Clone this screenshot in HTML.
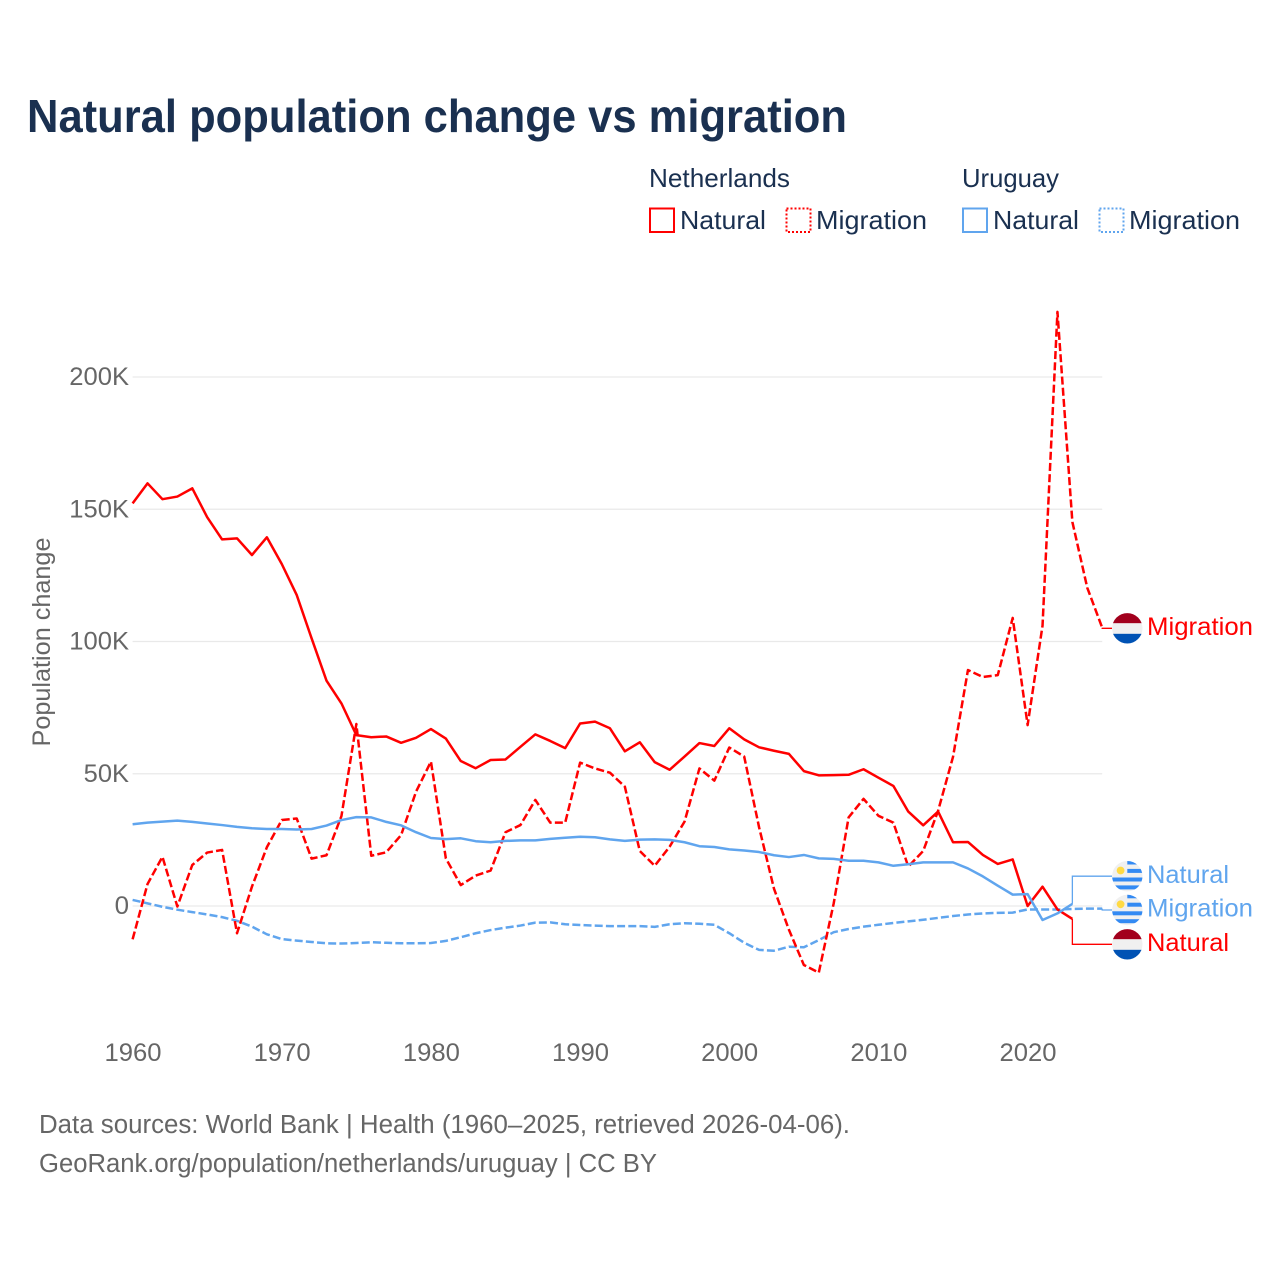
<!DOCTYPE html>
<html lang="en">
<head>
<meta charset="utf-8">
<title>Natural population change vs migration</title>
<style>
html,body{margin:0;padding:0;background:#fff;width:1280px;height:1280px;overflow:hidden}
svg{display:block}
text{font-family:"Liberation Sans",sans-serif}
.legend{fill:#1a3050;font-size:26px}
.foot{fill:#666;font-size:25.5px}
.tick{fill:#666;font-size:25px}
</style>
</head>
<body>
<svg id="chart" xmlns="http://www.w3.org/2000/svg" width="1280" height="1280" viewBox="0 0 1280 1280">
  <defs>
    <clipPath id="flag-clip"><circle cx="0" cy="0" r="15.2"/></clipPath>
    <g id="flag-nl">
      <g clip-path="url(#flag-clip)">
        <rect x="-16" y="-16" width="32" height="11" fill="#a2001d"/>
        <rect x="-16" y="-5" width="32" height="10.5" fill="#f0f0f0"/>
        <rect x="-16" y="5.500" width="32" height="11" fill="#0052b4"/>
      </g>
    </g>
    <g id="flag-uy">
      <g clip-path="url(#flag-clip)">
        <rect x="-16" y="-16" width="32" height="32" fill="#f0f0f0"/>
        <rect x="0" y="-15.500" width="16" height="3.8" fill="#338af3"/>
        <rect x="0" y="-7.300" width="16" height="4" fill="#338af3"/>
        <rect x="-16" y="1.300" width="32" height="4" fill="#338af3"/>
        <rect x="-16" y="9.200" width="32" height="4" fill="#338af3"/>
        <circle cx="-6.700" cy="-5.700" r="3.900" fill="#ffda44"/>
      </g>
    </g>
  </defs>

  <text x="27" y="132" font-size="46" font-weight="700" fill="#1a3050" textLength="820" lengthAdjust="spacingAndGlyphs">Natural population change vs migration</text>

  <g>
    <text class="legend" x="649" y="187" textLength="141" lengthAdjust="spacingAndGlyphs">Netherlands</text>
    <text class="legend" x="962" y="187" textLength="97" lengthAdjust="spacingAndGlyphs">Uruguay</text>
    <rect x="650" y="208.5" width="24" height="23.5" fill="none" stroke="#ff0000" stroke-width="2"/>
    <text class="legend" x="680" y="229" textLength="86" lengthAdjust="spacingAndGlyphs">Natural</text>
    <rect x="786.500" y="208.5" width="24" height="23.5" fill="none" stroke="#ff0000" stroke-width="2" stroke-dasharray="2 2"/>
    <text class="legend" x="816" y="229" textLength="111" lengthAdjust="spacingAndGlyphs">Migration</text>
    <rect x="963" y="208.5" width="24" height="23.5" fill="none" stroke="#60a5ee" stroke-width="2"/>
    <text class="legend" x="993" y="229" textLength="86" lengthAdjust="spacingAndGlyphs">Natural</text>
    <rect x="1099.500" y="208.5" width="24" height="23.5" fill="none" stroke="#60a5ee" stroke-width="2" stroke-dasharray="2 2"/>
    <text class="legend" x="1129" y="229" textLength="111" lengthAdjust="spacingAndGlyphs">Migration</text>
  </g>

  <g id="grid"></g>
  <g id="y-ticks"></g>
  <g id="x-ticks"></g>
  <text class="tick" transform="translate(50 642) rotate(-90)" text-anchor="middle" textLength="209" lengthAdjust="spacingAndGlyphs">Population change</text>
  <g id="series"></g>
  <g id="end-labels"></g>

  <text class="foot" x="39" y="1133" textLength="811" lengthAdjust="spacingAndGlyphs">Data sources: World Bank | Health (1960–2025, retrieved 2026-04-06).</text>
  <text class="foot" x="39" y="1172" textLength="618" lengthAdjust="spacingAndGlyphs">GeoRank.org/population/netherlands/uruguay | CC BY</text>
</svg>

<script>
const firstYear = 1960;
const xTickYears = [1960, 1970, 1980, 1990, 2000, 2010, 2020];
const yTickValues = [0, 50, 100, 150, 200];
const yTickLabels = ["0", "50K", "100K", "150K", "200K"];

// Values in thousands of people per year, starting at firstYear.
const netherlandsNatural = [152.2,159.8,153.8,154.8,157.9,147,138.6,139,132.7,139.4,129.3,117.6,101.2,85.2,76.6,64.6,63.8,64.1,61.7,63.6,66.9,63.3,54.8,52.1,55.2,55.4,60.2,64.9,62.4,59.7,69,69.7,67.2,58.5,61.9,54.4,51.5,56.5,61.6,60.5,67.2,63,60,58.7,57.5,51,49.4,49.5,49.6,51.7,48.5,45.4,35.7,30.5,35.7,24.1,24.2,19.3,15.9,17.6,0,7.3,-1.3,-4.9];
const netherlandsMigration = [-12.6,8.3,18.6,-0.2,15.5,20.2,21.2,-10.3,7.3,22.2,32.5,33.1,17.9,19.2,34,68.8,19,20.3,26.8,43.2,54.6,18,7.9,11.5,13.4,27.9,30.6,40.1,31.5,31.5,54.2,52,50.4,45.1,20.8,15.2,22.4,31.9,52,47.4,59.9,56.5,29.7,6.5,-9,-22.3,-25.2,1,33.5,40.5,34.1,31.5,14.9,20.8,36,56.4,89.2,86.6,87.3,108.9,68.4,106,224.6,145.2,120.3,105.2];
const uruguayNatural = [30.9,31.5,31.9,32.3,31.8,31.2,30.6,29.9,29.4,29.1,29.1,28.9,29.1,30.4,32.5,33.6,33.5,31.8,30.5,27.9,25.7,25.3,25.6,24.5,24.1,24.6,24.8,24.8,25.4,25.8,26.2,26,25.2,24.6,25.1,25.2,25,24.1,22.6,22.3,21.4,21,20.4,19.2,18.5,19.3,18,17.8,17.1,17.1,16.5,15.2,15.8,16.5,16.5,16.5,14.2,11.2,7.7,4.3,4.5,-5.3,-2.8,0.8];
const uruguayMigration = [2.3,1,-0.3,-1.4,-2.3,-3.2,-4.2,-5.6,-7.8,-10.7,-12.5,-13.1,-13.6,-14.1,-14.2,-14,-13.7,-13.9,-14.1,-14.1,-14,-13.2,-11.8,-10.3,-9.1,-8.2,-7.4,-6.3,-6.2,-6.9,-7.2,-7.4,-7.6,-7.6,-7.6,-7.9,-6.9,-6.5,-6.7,-7.1,-10.3,-13.9,-16.6,-16.9,-15.4,-15.6,-12.9,-9.9,-8.7,-7.8,-7.1,-6.4,-5.8,-5.2,-4.5,-3.8,-3.2,-2.8,-2.6,-2.5,-1.3,-1.3,-1.3,-1.1,-1,-1];

const RED = "#ff0000";
const BLUE = "#60a5ee";
const NS = "http://www.w3.org/2000/svg";

function xScale(year) { return 132.6 + (year - 1960) * (969.6 / 65); }
function yScale(value) { return 906 - value * 2.645; }
function make(tag, parent) {
  const el = document.createElementNS(NS, tag);
  parent.appendChild(el);
  return el;
}
function tickWidth(label) {
  let w = 0;
  for (const c of label) w += c === "K" ? 16.5 : 14.4;
  return w;
}

const gridGroup = document.getElementById("grid");
const yTickGroup = document.getElementById("y-ticks");
yTickValues.forEach(function (v, i) {
  const line = make("line", gridGroup);
  
  
  line.setAttribute("x1", 132.6);
  line.setAttribute("x2", 1102.2);
  line.setAttribute("y1", yScale(v));
  line.setAttribute("y2", yScale(v));
  line.setAttribute("stroke", "#e9e9e9");
  line.setAttribute("stroke-width", 1.2);

  const t = make("text", yTickGroup);
  
  
  t.setAttribute("class", "tick");
  t.setAttribute("x", 129);
  t.setAttribute("y", yScale(v) + 8);
  t.setAttribute("text-anchor", "end");
  t.setAttribute("textLength", tickWidth(yTickLabels[i]));
  t.setAttribute("lengthAdjust", "spacingAndGlyphs");
  t.textContent = yTickLabels[i];
});

const xTickGroup = document.getElementById("x-ticks");
xTickYears.forEach(function (year) {
  const t = make("text", xTickGroup);
  
  
  t.setAttribute("class", "tick");
  t.setAttribute("x", xScale(year) + 0.4);
  t.setAttribute("y", 1061);
  t.setAttribute("text-anchor", "middle");
  t.setAttribute("textLength", 57);
  t.setAttribute("lengthAdjust", "spacingAndGlyphs");
  t.textContent = String(year);
});

function pathFrom(values) {
  return values.map(function (v, i) {
    return (i ? "L" : "M") + xScale(firstYear + i).toFixed(2) + " " + yScale(v).toFixed(2);
  }).join(" ");
}

const seriesGroup = document.getElementById("series");
function drawSeries(values, color, dashed, name) {
  const p = make("path", seriesGroup);
  
  
  p.setAttribute("d", pathFrom(values));
  p.setAttribute("fill", "none");
  p.setAttribute("stroke", color);
  p.setAttribute("stroke-width", 2.5);
  p.setAttribute("stroke-linejoin", "round");
  if (dashed) p.setAttribute("stroke-dasharray", "8 3.2");
}
drawSeries(uruguayMigration, BLUE, true, "line-uruguay-migration");
drawSeries(netherlandsMigration, RED, true, "line-netherlands-migration");
drawSeries(netherlandsNatural, RED, false, "line-netherlands-natural");
drawSeries(uruguayNatural, BLUE, false, "line-uruguay-natural");

const endGroup = document.getElementById("end-labels");
function drawEnd(values, color, flag, text, labelY, textW, name) {
  const lastX = xScale(firstYear + values.length - 1);
  const lastY = yScale(values[values.length - 1]);
  const leader = make("path", endGroup);
  
  
  leader.setAttribute("d", "M" + lastX + " " + lastY + " L" + lastX + " " + labelY + " L1112 " + labelY);
  leader.setAttribute("fill", "none");
  leader.setAttribute("stroke", color);
  leader.setAttribute("stroke-width", 1.3);

  const f = make("use", endGroup);
  
  
  f.setAttribute("href", "#" + flag);
  f.setAttribute("transform", "translate(1127.3 " + labelY + ")");

  const t = make("text", endGroup);
  
  
  t.setAttribute("x", 1147);
  t.setAttribute("y", labelY + 6.6);
  t.setAttribute("font-size", 25);
  t.setAttribute("fill", color);
  t.setAttribute("textLength", textW);
  t.setAttribute("lengthAdjust", "spacingAndGlyphs");
  t.textContent = text;
}
drawEnd(netherlandsMigration, RED, "flag-nl", "Migration", 628.3, 106, "netherlands-migration");
drawEnd(uruguayNatural, BLUE, "flag-uy", "Natural", 876.2, 82, "uruguay-natural");
drawEnd(uruguayMigration, BLUE, "flag-uy", "Migration", 910, 106, "uruguay-migration");
drawEnd(netherlandsNatural, RED, "flag-nl", "Natural", 944.3, 82, "netherlands-natural");
</script>
</body>
</html>
